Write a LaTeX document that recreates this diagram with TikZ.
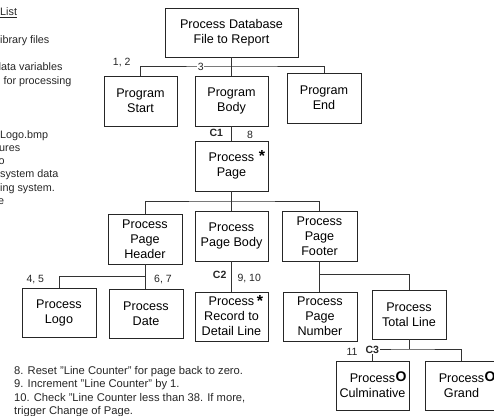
\documentclass[tikz,border=0pt]{standalone}
\usepackage{fontspec}
\setmainfont{Liberation Sans}
\begin{document}
\begin{tikzpicture}[x=1pt,y=-1pt,
  box/.style={draw=black!85, line width=0.9pt, align=center, inner sep=0pt,
    font=\fontsize{12.6}{15}\selectfont, text=black},
  conn/.style={draw=black!80, line width=0.8pt},
  lbl/.style={font=\fontsize{10.5}{12}\selectfont, inner sep=0.6pt, text=black!85},
  clbl/.style={lbl, font=\fontsize{10.5}{12}\selectfont\bfseries},
  note/.style={anchor=base west, font=\fontsize{10.8}{13}\selectfont, inner sep=0pt, text=black!85},
  wnote/.style={note, font=\fontsize{11.2}{13}\selectfont},
  star/.style={anchor=base, font=\fontsize{16}{16}\selectfont\bfseries, inner sep=0pt},
  omark/.style={anchor=base, font=\fontsize{14}{14}\selectfont\bfseries, inner sep=0pt}]
\useasboundingbox (0,0) rectangle (494,415);
\clip (0,0) rectangle (494,415);

% ---- structure chart boxes ----
\node[box, minimum width=133pt, minimum height=49pt] (top)    at (231.5,32.5)  {Process Database\\File to Report};
\node[box, minimum width=73pt,  minimum height=50pt] (start)  at (140.5,101)   {Program\\Start};
\node[box, minimum width=73pt,  minimum height=50pt] (body)   at (231.5,101)   {Program\\Body};
\node[box, minimum width=74pt,  minimum height=50pt] (end)    at (324,98)      {Program\\End};
\node[box, minimum width=73pt,  minimum height=50pt] (page)   at (231.5,166)   {Process\\Page};
\node[box, minimum width=74pt,  minimum height=50pt] (header) at (145,239)     {Process\\Page\\Header};
\node[box, minimum width=73pt,  minimum height=50pt] (pbody)  at (231.5,236)   {Process\\Page Body};
\node[box, minimum width=75pt,  minimum height=50pt] (footer) at (319.5,236)   {Process\\Page\\Footer};
\node[box, minimum width=74pt,  minimum height=49pt] (logo)   at (59,312.5)    {Process\\Logo};
\node[box, minimum width=74pt,  minimum height=49pt] (date)   at (146,313.5)   {Process\\Date};
\node[box, minimum width=73pt,  minimum height=49pt] (record) at (231.5,316.5)  {Process\\Record to\\Detail Line};
\node[box, minimum width=74pt,  minimum height=49pt] (number) at (320,316.5)   {Process\\Page\\Number};
\node[box, minimum width=74pt,  minimum height=49pt] (total)  at (409,314.5)   {Process\\Total Line};
\node[box, minimum width=73pt,  minimum height=49pt] (culm)   at (372.5,385.5) {Process\\Culminative};
\node[box, minimum width=73pt,  minimum height=49pt] (grand)  at (461.5,385.5) {Process\\Grand};

% ---- junction points of the branch bars ----
\coordinate (j1) at (231.5,66);
\coordinate (j2) at (231.5,201);
\coordinate (j3) at (145,276);
\coordinate (j4) at (319.5,274);
\coordinate (j5) at (409,349);

% ---- connectors ----
\draw[conn] (top.south) -- (body.north);
\draw[conn] (start.north) |- (j1) -| (end.north);
\draw[conn] (body.south) -- (page.north);
\draw[conn] (page.south) -- (pbody.north);
\draw[conn] (header.north) |- (j2) -| (footer.north);
\draw[conn] (header.south) -- (header.south |- date.north);
\draw[conn] (logo.north) |- (j3);
\draw[conn] (pbody.south) -- (record.north);
\draw[conn] (footer.south) -- (footer.south |- number.north);
\draw[conn] (j4) -| (total.north);
\draw[conn] (total.south) -- (j5);
\draw[conn] (culm.north) |- (j5) -| (grand.north);

% ---- step numbers and condition labels ----
\node[lbl] (n12) at (121.7,63) {1, 2};
\node[lbl, fill=white] (n3) at (200.8,66.5) {3};
\node[clbl] (c1) at (216.3,133) {C1};
\node[lbl, fill=white] (n8) at (250,135) {8};
\node[lbl] (n45) at (35.3,279.5) {4, 5};
\node[lbl] (n67) at (163,279.5) {6, 7};
\node[clbl] (c2) at (219.7,275.3) {C2};
\node[lbl] (n910) at (249.2,278) {9, 10};
\node[lbl] (n11) at (352,352) {11};
\node[clbl, fill=white, inner sep=1pt] (c3) at (372.3,349.5) {C3};

% ---- iteration and selection marks ----
\node[star] (s1) at (262,161) {*};
\node[star] (s2) at (260,306) {*};
\node[omark] (o1) at (401,381) {O};
\node[omark] (o2) at (490,381) {O};

% ---- notes on the left ----
\node[note] (t1) at (0,16) {\underline{List}};
\node[note] (t2) at (0,43.3) {ibrary files};
\node[note] (t3) at (-5,70.7) {data variables};
\node[note] (t4) at (3.3,84) {for processing};
\node[note] (t5) at (0,138.3) {Logo.bmp};
\node[note] (t6) at (-1,151.5) {ures};
\node[note] (t7) at (-1.5,164.7) {o};
\node[note] (t8) at (0,177.9) {system data};
\node[note] (t9) at (0,191.1) {ing system.};
\node[note] (t10) at (-2,204.3) {e};

% ---- notes at the bottom ----
\node[wnote] (b1) at (14,374) {8. Reset "Line Counter" for page back to zero.};
\node[wnote] (b2) at (14,387.5) {9. Increment "Line Counter" by 1.};
\node[wnote] (b3) at (14,401) {10. Check "Line Counter less than 38. If more,};
\node[wnote] (b4) at (14,414.5) {trigger Change of Page.};
\end{tikzpicture}
\end{document}
